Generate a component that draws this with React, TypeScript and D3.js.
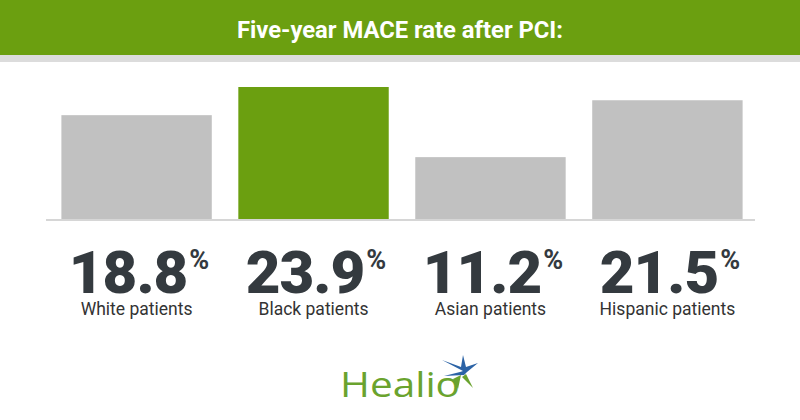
import React from "react";
import * as d3 from "d3";

const categories = ["White patients", "Black patients", "Asian patients", "Hispanic patients"];
const values = [18.8, 23.9, 11.2, 21.5];
const highlight = ["Black patients"];
const title = "Five-year MACE rate after PCI:";

const W = 800;
const H = 420;
const GREEN = "#6b9f10";
const GRAY = "#c1c1c1";
const DARK = "#343a3f";

export default function App() {
  const x = d3.scaleBand<string>().domain(categories).range([49, 755]).paddingInner(0.15).paddingOuter(0.07);
  const y = d3.scaleLinear().domain([0, d3.max(values) as number]).range([219, 87]);
  const font = "Roboto, 'Noto Sans', sans-serif";

  return (
    <svg width={W} height={H} style={{ position: "absolute", left: 0, top: 0, background: "#fff" }}>
      <rect x={0} y={0} width={W} height={55} fill={GREEN} />
      <rect x={0} y={55} width={W} height={7} fill="#dcdcdc" />
      <text x={400} y={38} textAnchor="middle" fill="#fff" fontFamily={font} fontWeight={700} fontSize={24}
        textLength={326} lengthAdjust="spacingAndGlyphs">{title}</text>

      {categories.map((c, i) => (
        <rect key={c} x={x(c)} y={y(values[i])} width={x.bandwidth()} height={y(0) - y(values[i])}
          fill={highlight.includes(c) ? GREEN : GRAY} />
      ))}
      <line x1={46} x2={755} y1={220} y2={220} stroke="#c8c8c8" strokeWidth={1.5} />

      {categories.map((c, i) => {
        const cx = (x(c) as number) + x.bandwidth() / 2;
        return (
          <g key={"l" + c}>
            <text x={cx + 2} y={293} textAnchor="middle" fill={DARK} fontFamily={font} fontWeight={900} fontSize={60}
              letterSpacing={-1}>
              <tspan>{values[i].toFixed(1)}</tspan>
              <tspan fontSize={27} fontWeight={700} dx={2} dy={-24}>%</tspan>
            </text>
            <text x={cx} y={315} textAnchor="middle" fill="#333" fontFamily={font} fontSize={17.5}>{c}</text>
          </g>
        );
      })}

      <g>
        <text x={340} y={397} fill="#6aa32e" fontFamily="'Open Sans', Lato, sans-serif" fontSize={35}
          textLength={120} lengthAdjust="spacingAndGlyphs">Healio</text>
        <path d="M463,371 L442,360 L461,367 L463,355 L466,367 L478,363 L467,372 L464,375 L444,376 L460,372 Z" fill="#2b63a6" />
        <path d="M466,374 L473,388 L462,377 Z" fill="#6aa32e" />
        <path d="M461,375 L458,389 L453,379 Z" fill="#6aa32e" />
      </g>
    </svg>
  );
}
